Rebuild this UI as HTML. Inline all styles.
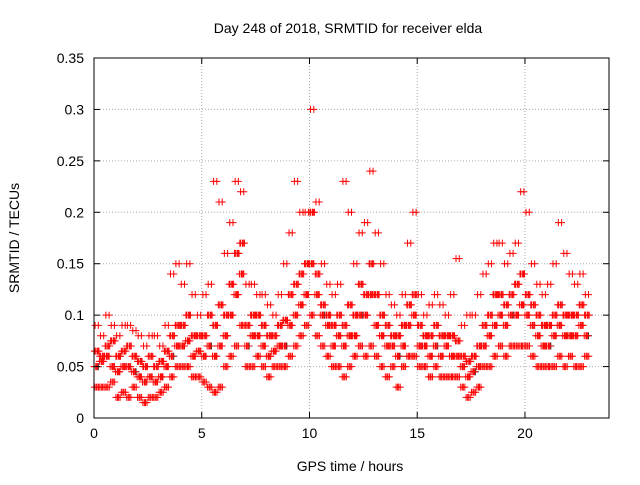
<!DOCTYPE html>
<html><head><meta charset="utf-8"><style>
body{margin:0;background:#fff;}
svg text{font-family:"Liberation Sans",sans-serif;font-size:14px;fill:#000;}
</style></head><body>
<svg id="chart" width="640" height="480">
<text x="348" y="33" text-anchor="middle">Day 248 of 2018, SRMTID for receiver elda</text>
<text x="350" y="471" text-anchor="middle">GPS time / hours</text>
<text transform="translate(19,238) rotate(-90)" text-anchor="middle">SRMTID / TECUs</text>
<g id="grid"></g><g id="pts"></g>
<rect x="94" y="58" width="515" height="360" fill="none" stroke="#000"/>
<g id="ticks"></g>
</svg>
<script>
const xTicks=[0,5,10,15,20];
const yTicks=[0,0.05,0.1,0.15,0.2,0.25,0.3,0.35];
const yTickLabels=["0","0.05","0.1","0.15","0.2","0.25","0.3","0.35"];
const binStart=0, binStep=0.25;
const lo=[.03,.03,.03,.035,.02,.025,.02,.03,.02,.015,.02,.02,.025,.03,.04,.05,.05,.05,.04,.04,.035,.03,.025,.03,.05,.06,.07,.09,.05,.05,.06,.05,.04,.05,.05,.05,.06,.07,.08,.09,.1,.08,.07,.06,.05,.05,.04,.05,.06,.07,.06,.07,.06,.05,.04,.05,.03,.05,.06,.06,.05,.05,.04,.05,.04,.04,.04,.04,.03,.02,.025,.03,.05,.05,.06,.07,.06,.07,.07,.07,.07,.06,.05,.05,.05,.05,.06,.05,.06,.05,.05,.06];
const midA=[.05,.055,.06,.05,.045,.05,.05,.045,.04,.035,.04,.035,.04,.05,.06,.07,.07,.075,.06,.065,.06,.07,.06,.07,.08,.1,.12,.14,.07,.08,.08,.07,.06,.065,.07,.07,.09,.1,.11,.12,.15,.12,.1,.09,.07,.08,.07,.08,.08,.1,.1,.12,.09,.08,.07,.07,.06,.07,.09,.1,.07,.07,.06,.07,.06,.07,.06,.06,.05,.04,.045,.05,.07,.08,.09,.1,.09,.1,.1,.11,.1,.09,.08,.07,.07,.08,.09,.08,.08,.08,.09,.08];
const midB=[.065,.06,.07,.075,.06,.065,.07,.06,.055,.05,.06,.05,.055,.065,.08,.09,.09,.1,.08,.08,.08,.1,.09,.11,.1,.13,.16,.17,.09,.1,.1,.09,.08,.08,.09,.095,.12,.13,.14,.15,.2,.14,.11,.1,.09,.1,.09,.11,.1,.13,.12,.15,.12,.1,.09,.08,.08,.09,.11,.12,.09,.08,.08,.09,.08,.08,.08,.075,.06,.055,.06,.07,.09,.1,.12,.12,.11,.12,.13,.14,.12,.11,.1,.09,.09,.1,.11,.1,.1,.1,.11,.1];
const hi=[.09,.08,.1,.09,.08,.09,.09,.085,.08,.07,.08,.08,.07,.09,.14,.15,.13,.15,.12,.1,.12,.13,.23,.21,.16,.19,.23,.22,.13,.13,.12,.12,.11,.1,.12,.15,.18,.23,.2,.2,.3,.21,.15,.13,.12,.13,.23,.2,.15,.18,.19,.24,.18,.15,.12,.11,.1,.12,.17,.2,.12,.1,.11,.12,.11,.1,.12,.155,.09,.1,.1,.12,.14,.15,.17,.17,.15,.16,.17,.22,.2,.15,.13,.12,.13,.15,.19,.16,.14,.13,.14,.12];
const X0=94,X1=609,Y0=418,Y1=58;
const xs=h=>X0+h*(X1-X0)/23.9;
const ys=v=>Y0-v*(Y0-Y1)/0.35;
const NS="http://www.w3.org/2000/svg";
const grid=document.getElementById('grid'),ticks=document.getElementById('ticks'),pts=document.getElementById('pts');
function mk(tag,attrs,parent){const e=document.createElementNS(NS,tag);for(const k in attrs)e.setAttribute(k,attrs[k]);parent.appendChild(e);return e;}
xTicks.forEach(t=>{const x=xs(t);
 if(t>0){const g=mk('line',{x1:x,x2:x,y1:Y0,y2:Y1,stroke:'#aaa','stroke-dasharray':'1,2'},grid);
 
 }
 mk('line',{x1:x,x2:x,y1:Y0,y2:Y0-6,stroke:'#000'},ticks);mk('line',{x1:x,x2:x,y1:Y1,y2:Y1+6,stroke:'#000'},ticks);
 const l=mk('text',{x:x,y:Y0+20,'text-anchor':'middle'},ticks);l.textContent=t;
 
 });
yTicks.forEach((t,i)=>{const y=ys(t);
 if(i>0&&i<yTicks.length-1){const g=mk('line',{x1:X0,x2:X1,y1:y,y2:y,stroke:'#aaa','stroke-dasharray':'1,2'},grid);
 
 }
 mk('line',{x1:X0,x2:X0+6,y1:y,y2:y,stroke:'#000'},ticks);mk('line',{x1:X1,x2:X1-6,y1:y,y2:y,stroke:'#000'},ticks);
 const l=mk('text',{x:X0-10,y:y+5,'text-anchor':'end'},ticks);l.textContent=yTickLabels[i];
 
 });
const series=[[lo,0.02],[midA,0.08],[midB,0.14],[hi,0.2],[midA,0.2],[midB,0.02],[lo,0.14],[midA,0.11],
 [midB,0.23],[midA,0.0],[lo,0.09],[midB,0.06],[midA,0.16],[hi,0.05],[midB,0.18],[lo,0.21]];
series.forEach(([arr,off],si)=>{arr.forEach((v,i)=>{const x=xs(binStart+i*binStep+off),y=ys(v);
 const col=(si===4&&i%7===0)?'#333':'#f00';
 const p=mk('path',{d:`M${x-3.5},${y}h7M${x},${y-3.5}v7`,stroke:col,'stroke-width':1},pts);
 
 });});
</script>
</body></html>
